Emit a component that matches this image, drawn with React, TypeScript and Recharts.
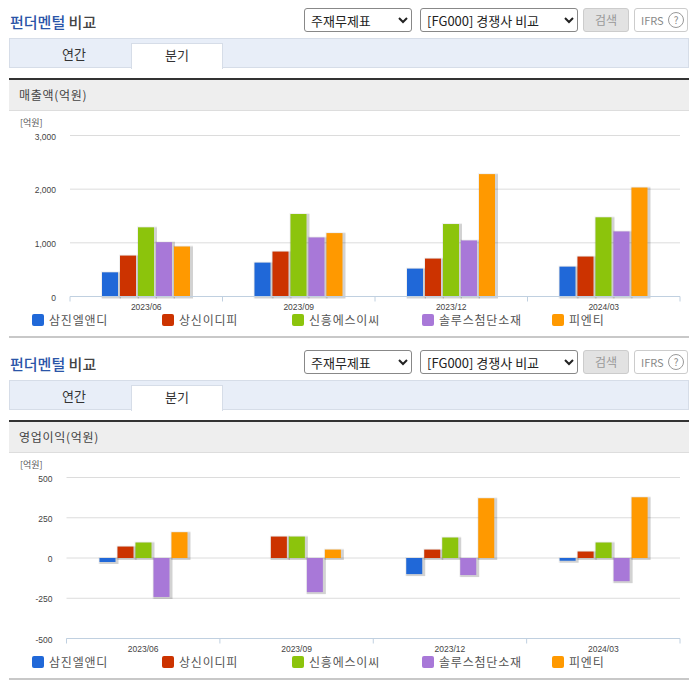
import { BarChart, Bar, XAxis, YAxis, CartesianGrid, Legend } from 'recharts';

const periods = ['2023/06', '2023/09', '2023/12', '2024/03'];
const companies = ['삼진엘앤디', '상신이디피', '신흥에스이씨', '솔루스첨단소재', '피엔티'];
const colors = ['#2068d8', '#cc3300', '#8cc40c', '#a878d8', '#ff9900'];

// 매출액
const salesSamjin = [450, 631, 519, 556];
const salesSangsin = [762, 837, 706, 744];
const salesSinheung = [1288, 1537, 1350, 1475];
const salesSolus = [1012, 1100, 1044, 1212];
const salesPnt = [931, 1181, 2280, 2030];
const salesTicks = [0, 1000, 2000, 3000];

// 영업이익
const profitSamjin = [-25, 0, -100, -17];
const profitSangsin = [71, 133, 52, 40];
const profitSinheung = [96, 133, 127, 96];
const profitSolus = [-242, -212, -106, -144];
const profitPnt = [160, 52, 371, 377];
const profitTicks = [-500, -250, 0, 250, 500];

const KR = '"Noto Sans CJK KR", "Noto Sans", sans-serif';
const LATIN = '"Liberation Sans", Arial, sans-serif';

function toRows(series: number[][]) {
  return periods.map((period, i) => {
    const row: Record<string, string | number> = { period };
    companies.forEach((c, j) => {
      row[c] = series[j][i];
    });
    return row;
  });
}

// 그림자가 있는 막대
function ShadowBar(props: any) {
  const { x, y, width, height, fill } = props;
  if (!height) return null;
  const top = height < 0 ? y + height : y;
  const h = Math.abs(height);
  return (
    <g>
      <rect x={x - 1} y={top - 1} width={width + 4} height={h + 3} fill="#000" opacity={0.06} />
      <rect x={x} y={top} width={width + 3} height={h + 2} fill="#000" opacity={0.12} />
      <rect x={x} y={top} width={width} height={h} fill={fill} />
    </g>
  );
}

function PeriodTick(props: any) {
  const { x, y, payload, index, step } = props;
  const axisY = y - 8;
  return (
    <g>
      <line x1={x - step / 2} x2={x - step / 2} y1={axisY} y2={axisY + 5} stroke="#c0d0e0" />
      {index === periods.length - 1 && (
        <line x1={x + step / 2} x2={x + step / 2} y1={axisY} y2={axisY + 5} stroke="#c0d0e0" />
      )}
      <text x={x} y={axisY + 13} textAnchor="middle" fontSize={8.5} fill="#444" fontFamily={LATIN}>
        {payload.value}
      </text>
    </g>
  );
}

function CompanyLegend({ payload }: any) {
  return (
    <div style={{ position: 'relative', height: 20, fontFamily: KR, fontSize: 12, color: '#555' }}>
      {(payload ?? []).map((p: any, i: number) => (
        <div key={p.value} style={{ position: 'absolute', left: 32 + i * 130, top: 4, display: 'flex', alignItems: 'center' }}>
          <span style={{ width: 12, height: 12, borderRadius: 2, background: p.color, marginRight: 5 }} />
          <span style={{ letterSpacing: 0.8, lineHeight: '12px' }}>{p.value}</span>
        </div>
      ))}
    </div>
  );
}

const box = (left: number, top: number, width: number, height: number, extra = {}) => ({
  position: 'absolute' as const,
  left,
  top,
  width,
  height,
  boxSizing: 'border-box' as const,
  ...extra,
});

function Panel({ top, label, series, ticks, domain, plotLeft }: {
  top: number;
  label: string;
  series: number[][];
  ticks: number[];
  domain: [number, number];
  plotLeft: number;
}) {
  const selectStyle = { fontFamily: KR, fontSize: 13, color: '#222', background: '#fff', border: '1px solid #888', borderRadius: 3, padding: '0 0 0 2px' };
  return (
    <div style={box(0, top, 696, 342)}>
      <div style={{ position: 'absolute', left: 10, top: 13, fontFamily: KR, fontSize: 15, fontWeight: 500, lineHeight: '18px', color: '#444' }}>
        <span style={{ color: '#2a55a8' }}>펀더멘털</span> 비교
      </div>
      <select style={box(304, 8, 108, 24, selectStyle)} defaultValue="주재무제표">
        <option>주재무제표</option>
      </select>
      <select style={box(420, 8, 158, 24, selectStyle)} defaultValue="[FG000] 경쟁사 비교">
        <option>[FG000] 경쟁사 비교</option>
      </select>
      <div style={box(583, 8, 46, 24, { background: '#e2e2e2', border: '1px solid #ccc', borderRadius: 3, color: '#999', fontFamily: KR, fontSize: 12, lineHeight: '22px', textAlign: 'center' })}>
        검색
      </div>
      <div style={box(634, 8, 54, 24, { background: '#fff', border: '1px solid #ccc', borderRadius: 3, color: '#888', fontFamily: KR, fontSize: 11, lineHeight: '22px', paddingLeft: 6 })}>
        IFRS
        <span style={{ position: 'absolute', left: 33, top: 3, width: 16, height: 16, boxSizing: 'border-box', border: '1px solid #999', borderRadius: 8, fontSize: 10, lineHeight: '14px', textAlign: 'center' }}>?</span>
      </div>

      <div style={box(9, 38, 680, 30, { background: '#e8eef8', border: '1px solid #d6dde8' })} />
      <div style={box(9, 43, 122, 25, { fontFamily: KR, fontSize: 13, lineHeight: '21px', textAlign: 'center', color: '#333', paddingLeft: 8 })}>연간</div>
      <div style={box(131, 43, 92, 26, { background: '#fff', border: '1px solid #d6dde8', borderBottom: 'none', fontFamily: KR, fontSize: 13, lineHeight: '21px', textAlign: 'center', color: '#333' })}>분기</div>

      <div style={box(9, 78, 680, 33, { background: '#eee', borderTop: '2px solid #333', borderBottom: '1px solid #ddd', fontFamily: KR, fontSize: 12, lineHeight: '29px', paddingLeft: 10, color: '#444', letterSpacing: 0.7 })}>
        {label}
      </div>
      <div style={{ position: 'absolute', left: 20, top: 117, fontFamily: KR, fontSize: 9, lineHeight: '12px', color: '#555' }}>[억원]</div>

      <div style={{ position: 'absolute', left: 0, top: 110 }}>
        <BarChart
          width={696}
          height={225}
          data={toRows(series)}
          barSize={16}
          barGap={2}
          margin={{ top: 25.5, right: 16, bottom: 0, left: 0 }}
        >
          <CartesianGrid horizontal vertical={false} stroke="#dcdcdc" />
          <XAxis
            dataKey="period"
            height={18.5}
            axisLine={{ stroke: '#c0d0e0' }}
            tickLine={false}
            interval={0}
            tick={<PeriodTick step={(680 - plotLeft) / periods.length} />}
          />
          <YAxis
            width={plotLeft}
            domain={domain}
            ticks={ticks}
            interval={0}
            axisLine={false}
            tickLine={false}
            tickMargin={8}
            tickFormatter={(v: number) => v.toLocaleString('en-US')}
            tick={{ fontSize: 8.5, fill: '#444', fontFamily: LATIN, dy: 1 }}
          />
          <Legend verticalAlign="bottom" height={20} itemSorter={null} wrapperStyle={{ left: 0, bottom: 5, width: 696 }} content={<CompanyLegend />} />
          {companies.map((c, i) => (
            <Bar key={c} dataKey={c} name={c} fill={colors[i]} shape={<ShadowBar />} isAnimationActive={false} />
          ))}
        </BarChart>
      </div>

      <div style={box(9, 336, 680, 2, { background: '#c8c8c8' })} />
    </div>
  );
}

export default function App() {
  return (
    <div style={box(0, 0, 696, 684, { background: '#fff', overflow: 'hidden' })}>
      <Panel
        top={0}
        label="매출액(억원)"
        series={[salesSamjin, salesSangsin, salesSinheung, salesSolus, salesPnt]}
        ticks={salesTicks}
        domain={[0, 3000]}
        plotLeft={70}
      />
      <Panel
        top={342}
        label="영업이익(억원)"
        series={[profitSamjin, profitSangsin, profitSinheung, profitSolus, profitPnt]}
        ticks={profitTicks}
        domain={[-500, 500]}
        plotLeft={66.5}
      />
    </div>
  );
}
